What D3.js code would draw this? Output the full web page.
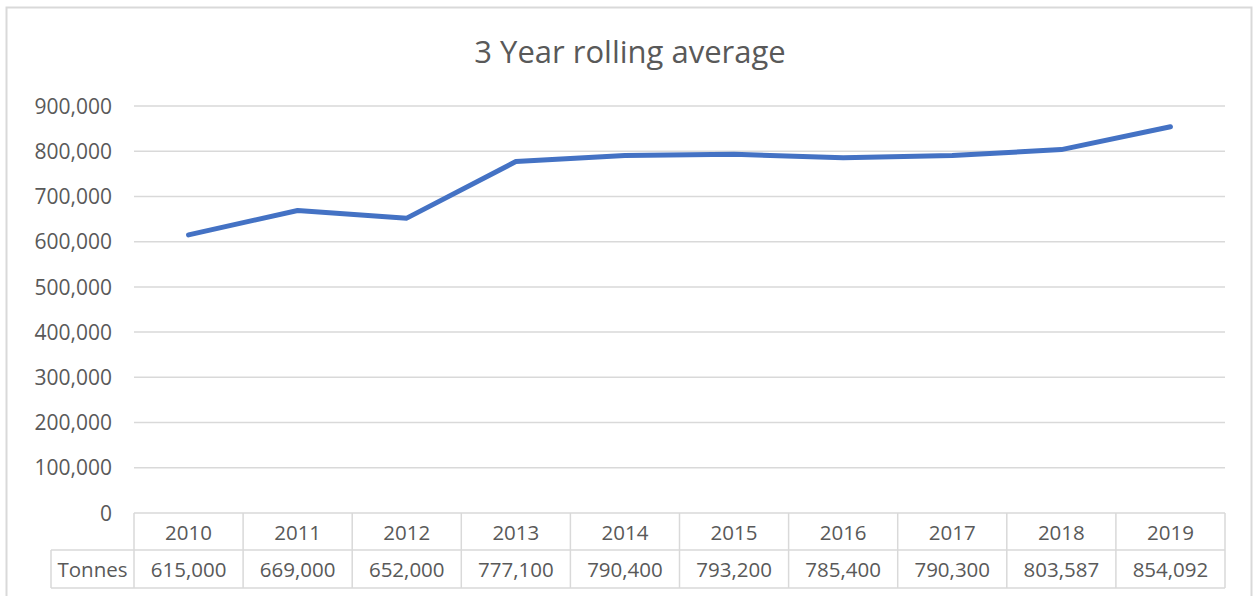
<!DOCTYPE html>
<html><head><meta charset="utf-8">
<script src="https://cdn.jsdelivr.net/npm/d3@7"></script>
<style>
html,body{margin:0;padding:0;background:#fff;}
svg{display:block;}
text{font-family:"Open Sans","Noto Sans",sans-serif;fill:#595959;}
</style></head>
<body>
<svg id="chart" width="1253" height="596"></svg>
<script>
const title = "3 Year rolling average";
const seriesName = "Tonnes";
const years = ["2010","2011","2012","2013","2014","2015","2016","2017","2018","2019"];
const tonnes = [615000,669000,652000,777100,790400,793200,785400,790300,803587,854092];
const yTicks = [0,100000,200000,300000,400000,500000,600000,700000,800000,900000];

(function(){
const svg = d3.select("#chart");
const pLeft = 134, pRight = 1225, pTop = 106, pBottom = 513;
const fontFam = "'Open Sans','Noto Sans',sans-serif";

// outer chart border
svg.append("rect").attr("x",6.5).attr("y",7.5).attr("width",1245).attr("height",600)
  .attr("fill","#fff").attr("stroke","#d9d9d9").attr("stroke-width",2);

svg.append("text").attr("x",630).attr("y",63).attr("text-anchor","middle")
  .style("font-size","31px").text(title);

const x = d3.scaleBand().domain(years).range([pLeft,pRight]);
const y = d3.scaleLinear().domain([0,900000]).range([pBottom,pTop]);
const fmt = d3.format(",");

// gridlines
svg.append("g").selectAll("line").data(yTicks.filter(d=>d>0)).join("line")
  .attr("x1",pLeft).attr("x2",pRight)
  .attr("y1",d=>y(d)).attr("y2",d=>y(d))
  .attr("stroke","#d9d9d9").attr("stroke-width",1.5);

// y axis labels
const yAxis = d3.axisLeft(y).tickValues(yTicks).tickFormat(fmt).tickSize(0).tickPadding(22);
const ga = svg.append("g").attr("transform",`translate(${pLeft},0)`).call(yAxis);
ga.select(".domain").remove();
ga.selectAll("text").style("font-size","21px").attr("fill","#595959")
  .style("font-family",fontFam).attr("dy","0.34em");

// line
const line = d3.line().x((d,i)=>x(years[i])+x.bandwidth()/2).y(d=>y(d));
svg.append("path").datum(tonnes).attr("d",line)
  .attr("fill","none").attr("stroke","#4472C4").attr("stroke-width",5)
  .attr("stroke-linecap","round").attr("stroke-linejoin","round");

// data table
const row1 = pBottom, row2 = 550, row3 = 588, labLeft = 51;
const tg = svg.append("g").attr("stroke","#d9d9d9").attr("stroke-width",1.5);
tg.append("line").attr("x1",pLeft).attr("x2",pRight).attr("y1",row1).attr("y2",row1);
tg.append("line").attr("x1",labLeft).attr("x2",pRight).attr("y1",row2).attr("y2",row2);
tg.append("line").attr("x1",labLeft).attr("x2",pRight).attr("y1",row3).attr("y2",row3);
tg.append("line").attr("x1",labLeft).attr("x2",labLeft).attr("y1",row2).attr("y2",row3);
tg.selectAll(".v").data(years.concat(["end"])).join("line")
  .attr("x1",(d,i)=>pLeft+i*x.bandwidth()).attr("x2",(d,i)=>pLeft+i*x.bandwidth())
  .attr("y1",row1).attr("y2",row3);

svg.append("g").selectAll("text").data(years).join("text")
  .attr("x",d=>x(d)+x.bandwidth()/2).attr("y",(row1+row2)/2+8)
  .attr("text-anchor","middle").style("font-size","20.5px").text(d=>d);
svg.append("g").selectAll("text").data(tonnes).join("text")
  .attr("x",(d,i)=>x(years[i])+x.bandwidth()/2).attr("y",(row2+row3)/2+8)
  .attr("text-anchor","middle").style("font-size","20.5px").text(d=>fmt(d));
svg.append("text").attr("x",(labLeft+pLeft)/2).attr("y",(row2+row3)/2+8)
  .attr("text-anchor","middle").style("font-size","20.5px").text(seriesName);
})();
</script>
</body></html>
